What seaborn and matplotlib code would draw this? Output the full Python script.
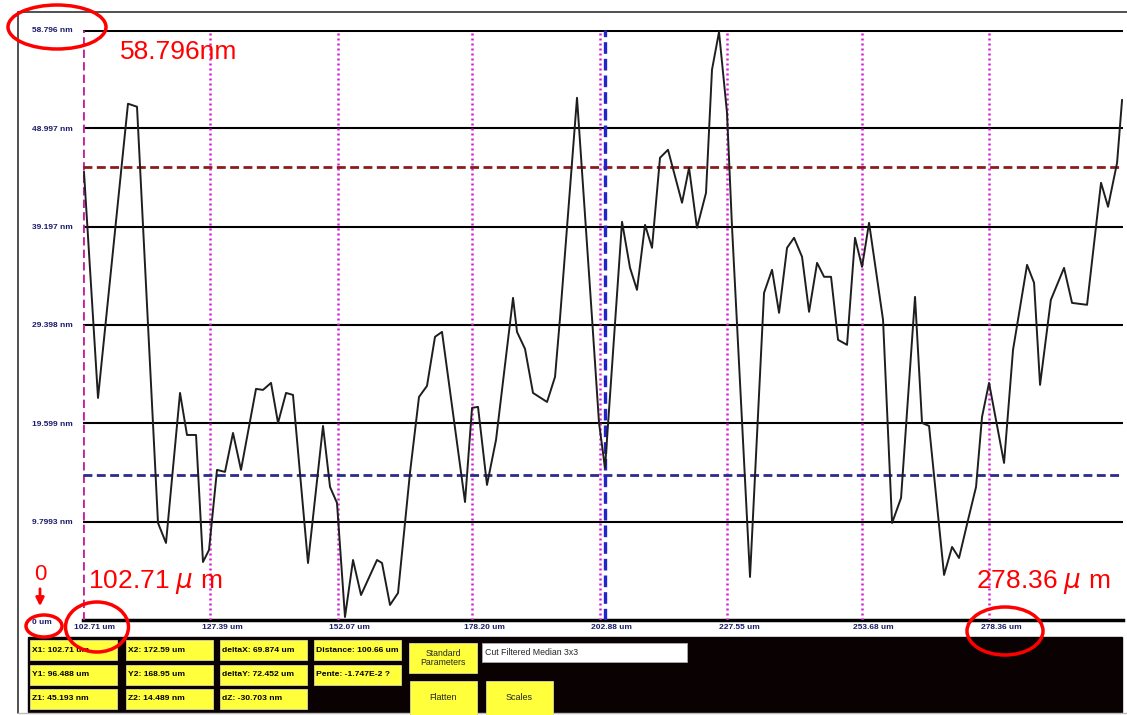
import numpy as np
import pandas as pd
import matplotlib
matplotlib.use("Agg")
import matplotlib.pyplot as plt
import matplotlib.transforms as mtransforms
from matplotlib.patches import Rectangle, Ellipse
import seaborn as sns

# profile trace (x in um, height in nm)
x_um = [102.90, 105.62, 111.43, 113.18, 117.25, 118.80, 121.52, 122.87, 124.62, 125.97,
        127.14, 128.69, 130.24, 131.79, 133.34, 136.25, 137.61, 139.16, 140.52, 142.07,
        143.42, 146.33, 149.24, 150.60, 151.95, 153.50, 155.06, 156.61, 159.71, 160.68,
        162.23, 163.78, 166.10, 167.85, 169.40, 170.95, 172.31, 176.77, 178.13, 179.29,
        181.03, 182.78, 186.08, 186.85, 188.40, 189.95, 192.67, 194.22, 195.19, 198.48,
        201.39, 202.75, 203.91, 207.21, 208.76, 210.11, 211.67, 213.02, 214.57, 216.12,
        218.84, 220.20, 221.74, 223.49, 224.65, 226.01, 227.56, 228.53, 232.02, 234.74,
        236.29, 237.65, 239.20, 240.56, 242.11, 243.47, 245.02, 246.38, 247.73, 249.09,
        250.83, 252.38, 253.74, 255.10, 257.81, 259.56, 261.30, 264.01, 265.37, 266.73,
        269.64, 271.19, 272.54, 274.29, 275.84, 277.00, 278.36, 281.27, 283.01, 285.73,
        287.09, 288.25, 290.34, 292.90, 294.45, 297.36, 300.07, 301.43, 303.18, 304.15]
z_nm = [44.67, 22.13, 51.45, 51.15, 9.67, 7.68, 22.63, 18.44, 18.44, 5.78,
        6.98, 14.96, 14.76, 18.64, 14.96, 23.03, 22.93, 23.63, 19.64, 22.63,
        22.43, 5.68, 19.34, 13.26, 11.67, 0.30, 5.98, 2.49, 5.98, 5.68,
        1.50, 2.69, 14.66, 22.23, 23.33, 28.22, 28.71, 11.76, 21.14, 21.24,
        13.46, 17.95, 32.10, 28.71, 27.02, 22.63, 21.73, 24.23, 30.11, 52.04,
        30.11, 19.64, 15.15, 39.68, 35.09, 32.90, 39.38, 37.09, 46.06, 46.86,
        41.58, 45.06, 39.08, 42.57, 54.84, 58.60, 50.55, 39.18, 4.29, 32.60,
        34.90, 30.61, 37.09, 38.09, 36.19, 30.71, 35.59, 34.20, 34.20, 27.92,
        27.42, 38.09, 35.19, 39.58, 29.91, 9.67, 12.16, 32.20, 19.64, 19.34,
        4.49, 7.28, 6.18, 9.97, 13.26, 20.24, 23.63, 15.65, 26.92, 35.39,
        33.60, 23.43, 31.90, 35.09, 31.60, 31.41, 43.57, 41.18, 45.56, 51.84]

y_ticks = [9.7993, 19.599, 29.398, 39.197, 48.997, 58.796]
y_labels = ["9.7993 nm", "19.599 nm", "29.398 nm", "39.197 nm", "48.997 nm", "58.796 nm"]
x_ticks = [102.71, 127.39, 152.07, 178.20, 202.88, 227.55, 253.68, 278.36]
x_labels = ["102.71 um", "127.39 um", "152.07 um", "178.20 um", "202.88 um",
            "227.55 um", "253.68 um", "278.36 um"]
x_range = (102.71, 304.33)
z_top = 58.796
z1 = 45.193
z2 = 14.489
cursor_x = 203.9

info_rows = [["X1: 102.71 um", "X2: 172.59 um", "deltaX: 69.874 um", "Distance: 100.66 um"],
             ["Y1: 96.488 um", "Y2: 168.95 um", "deltaY: 72.452 um", "Pente: -1.747E-2 ?"],
             ["Z1: 45.193 nm", "Z2: 14.489 nm", "dZ: -30.703 nm", None]]

sns.set_style("white")
plt.rcParams['font.family'] = ['Liberation Sans', 'DejaVu Sans']

W, H = 1127, 715
fig = plt.figure(figsize=(W / 100, H / 100), dpi=100)
fig.patch.set_facecolor("white")

# main profile axes (pixel box 83..1123 x 30..620)
ax = fig.add_axes([83 / W, (H - 620) / H, 1040 / W, 590 / H])
df = pd.DataFrame({"x": x_um, "z": z_nm})
sns.lineplot(data=df, x="x", y="z", color="#1e1e1e", lw=1.4, estimator=None, ax=ax, zorder=5)
ax.set_xlim(*x_range)
ax.set_ylim(0, z_top)

for i, v in enumerate(y_ticks):
    ax.axhline(v, color="black", lw=2.2 if i == len(y_ticks) - 1 else 1.5, zorder=2)
for i, v in enumerate(x_ticks):
    if i == 0:
        ax.axvline(v, color="#c8209a", lw=2.0, ls=(0, (3, 1.5)), zorder=3)
    else:
        ax.axvline(v, color="#d21ed2", lw=1.8, ls=(0, (0.8, 1.2)), zorder=3)
ax.axhline(z1, color="#8b1c1c", lw=2.0, ls=(0, (3.2, 1.6)), zorder=3)
ax.axhline(z2, color="#2b2b8c", lw=2.0, ls=(0, (3.2, 1.6)), zorder=3)
ax.axvline(cursor_x, color="#2424cc", lw=2.4, ls=(0, (3.5, 1.5)), zorder=3)

for s in ["top", "right", "left"]:
    ax.spines[s].set_visible(False)
ax.spines["bottom"].set_linewidth(2.5)
ax.spines["bottom"].set_color("black")

tick_font = dict(fontsize=6, fontweight="bold", color="#1b1b6b")
ax.set_yticks(y_ticks)
ax.set_yticklabels(y_labels, ha="left", **tick_font)
ax.tick_params(axis="y", length=0, pad=36.7)
ax.set_xticks(x_ticks)
ax.set_xticklabels(x_labels, **tick_font)
ax.tick_params(axis="x", length=0, pad=3)
shift = mtransforms.ScaledTranslation(12 / 100, 0, fig.dpi_scale_trans)
for lab in ax.get_xticklabels():
    lab.set_transform(lab.get_transform() + shift)
ax.set_xlabel("")
ax.set_ylabel("")

# overlay in pixel coordinates for the screenshot chrome
ov = fig.add_axes([0, 0, 1, 1], zorder=10)
ov.set_xlim(0, W)
ov.set_ylim(H, 0)
ov.axis("off")
ov.patch.set_alpha(0)

ov.plot([18, W], [12, 12], color="#333333", lw=1.2)
ov.plot([18, 18], [12, 713], color="#333333", lw=1.2)
ov.plot([18, W], [713, 713], color="#bbbbbb", lw=1.0)
ov.text(42, 623, "0 um", ha="center", va="center", **tick_font)

# control panel
ov.add_patch(Rectangle((28, 637), 1094, 75, color="#0a0202", zorder=1))
yellow = "#ffff3c"
col_x = [30, 126, 220, 314]
row_y = [640, 665, 689]
for r, row in enumerate(info_rows):
    for c, txt in enumerate(row):
        if txt is None:
            continue
        ov.add_patch(Rectangle((col_x[c], row_y[r]), 87, 20, facecolor=yellow,
                               edgecolor="#d8d8a0", lw=0.6, zorder=2))
        ov.text(col_x[c] + 2, row_y[r] + 10, txt, ha="left", va="center", fontsize=6.1,
                fontweight="bold", color="black", zorder=3)
ov.add_patch(Rectangle((409, 643), 68, 30, facecolor=yellow, edgecolor="#d8d8a0", lw=0.6, zorder=2))
ov.text(443, 658, "Standard\nParameters", ha="center", va="center", fontsize=6.3,
        linespacing=1.1, zorder=3)
ov.add_patch(Rectangle((482, 643), 205, 19, facecolor="white", edgecolor="#aaaaaa", lw=0.6, zorder=2))
ov.text(485, 652.5, "Cut Filtered Median 3x3", ha="left", va="center", fontsize=6.3, zorder=3)
ov.add_patch(Rectangle((410, 681), 67, 34, facecolor=yellow, edgecolor="#d8d8a0", lw=0.6, zorder=2))
ov.text(443, 698, "Flatten", ha="center", va="center", fontsize=6.5, zorder=3)
ov.add_patch(Rectangle((486, 681), 67, 34, facecolor=yellow, edgecolor="#d8d8a0", lw=0.6, zorder=2))
ov.text(519, 698, "Scales", ha="center", va="center", fontsize=6.5, zorder=3)

# red annotations
red = "#ff0000"
ov.text(120, 52, "58.796nm", color=red, fontsize=19, ha="left", va="center")
ov.text(88, 582, r"102.71 $\mu$ m", color=red, fontsize=19, ha="left", va="center")
ov.text(976, 582, r"278.36 $\mu$ m", color=red, fontsize=19, ha="left", va="center")
ov.text(40, 575, "0", color=red, fontsize=16, ha="center", va="center")
ov.annotate("", xy=(40, 609), xytext=(40, 586),
            arrowprops=dict(arrowstyle="-|>", color=red, lw=2, mutation_scale=12))
for cx, cy, w, h in [(57, 27, 98, 44), (44, 626, 36, 22), (97, 627, 63, 50), (1005, 631, 76, 48)]:
    ov.add_patch(Ellipse((cx, cy), w, h, fill=False, edgecolor=red, lw=2.5, zorder=6))

fig.savefig("out.png", dpi=100)
